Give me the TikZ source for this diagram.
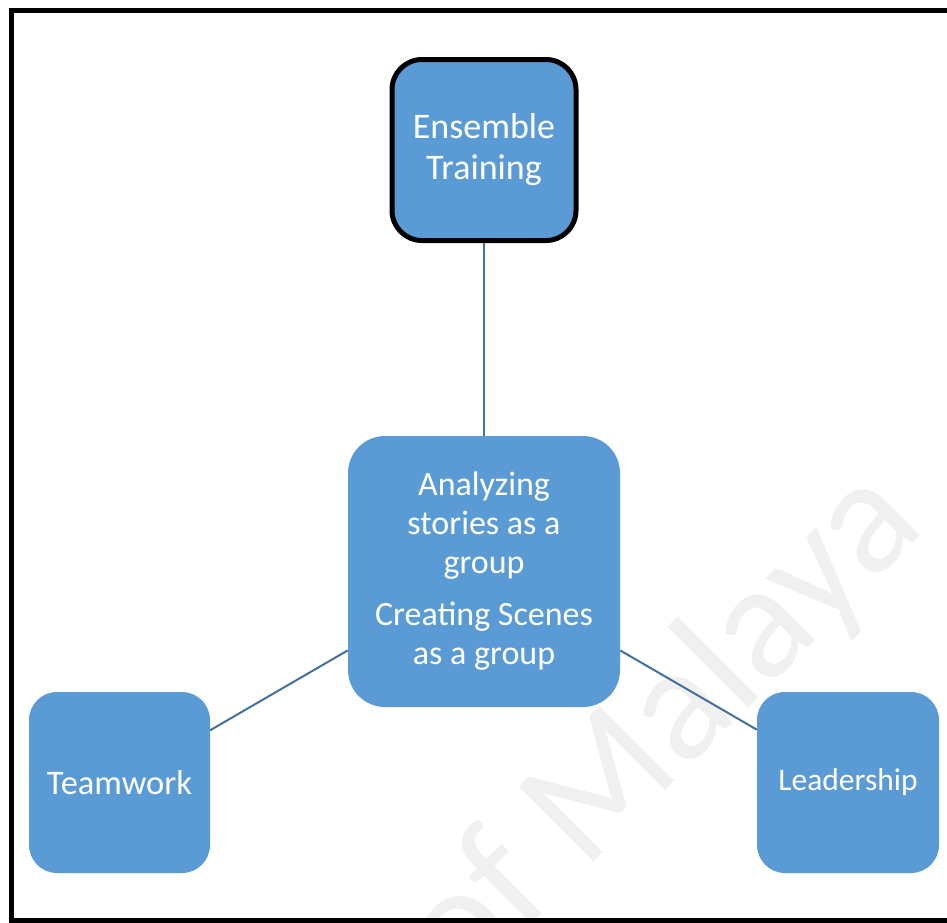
\documentclass[tikz,border=0pt]{standalone}
\usepackage{fontspec}
\setmainfont{Carlito}
\usetikzlibrary{positioning}
\definecolor{boxblue}{HTML}{5B9BD5}
\definecolor{lineblue}{HTML}{41719C}
\definecolor{markgray}{HTML}{F0F0F0}

\begin{document}
\begin{tikzpicture}[x=1pt,y=-1pt,on grid,
	box/.style={fill=boxblue,text=white,align=center,inner sep=0pt,
		rounded corners=28pt,minimum width=181pt,minimum height=181pt},
	link/.style={draw=lineblue,line width=2pt}]
	\useasboundingbox (0,0) rectangle (947,922);
	\clip (0,0) rectangle (947,922);
	\node[text=markgray,font=\fontsize{165}{165}\selectfont,rotate=45,anchor=base east] (mark) at (930,526) {of Malaya};
	\draw[line width=5pt] (11.5,10.8) rectangle (975,920);
	\node[box,minimum width=272pt,minimum height=271pt,rounded corners=37pt,
		font=\fontsize{34}{39}\selectfont] (cen) at (484,571.5)
		{Analyzing\\stories as a\\group\\[13pt]Creating Scenes\\as a group};
	\node[box,draw=black,line width=5pt,minimum width=184pt,minimum height=181pt,rounded corners=30pt,
		font=\fontsize{36}{41}\selectfont,above=421.5pt of cen] (ens) {Ensemble\\Training};
	\node[box,font=\fontsize{34.5}{39}\selectfont,below left=211pt and 364.5pt of cen] (team) {Teamwork};
	\node[box,minimum width=182pt,font=\fontsize{31.5}{37}\selectfont,below right=211pt and 364pt of cen] (lead) {Leadership};
	\path (ens) edge[link] (cen)
		 (cen) edge[link] (team)
		 (cen) edge[link] (lead);
\end{tikzpicture}
\end{document}
